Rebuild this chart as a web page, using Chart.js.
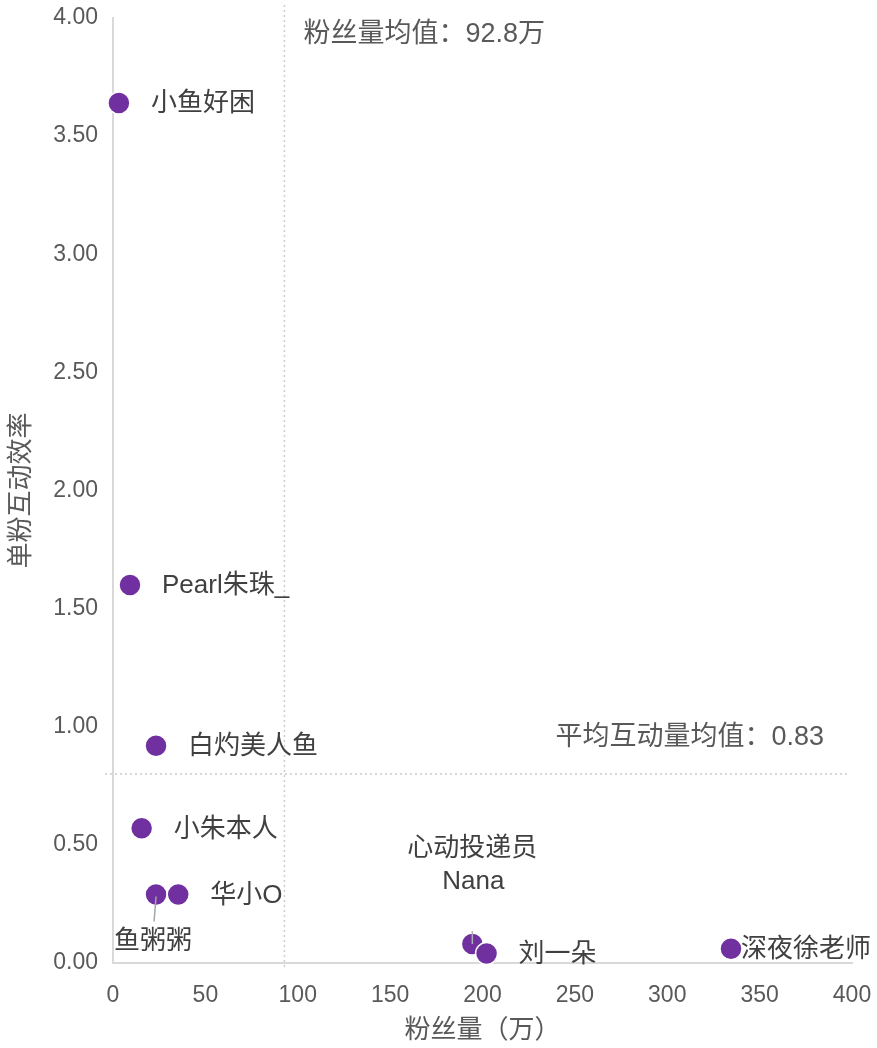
<!DOCTYPE html>
<html>
<head>
<meta charset="utf-8">
<script src="https://cdn.jsdelivr.net/npm/chart.js@4/dist/chart.umd.min.js"></script>
<style>
  html, body { margin: 0; padding: 0; background: #fff; }
  canvas { display: block; }
</style>
</head>
<body>
<canvas id="bubble" width="877" height="1048"></canvas>
<script>
// data
var names = ["小鱼好困", "Pearl朱珠_", "白灼美人鱼", "小朱本人", "鱼粥粥", "华小O", "心动投递员\nNana", "刘一朵", "深夜徐老师"];
var fans = [3.2, 9.2, 23.3, 15.5, 23.3, 35.3, 194.5, 202.2, 334.5];        // 万
var efficiency = [3.64, 1.60, 0.92, 0.57, 0.29, 0.29, 0.08, 0.04, 0.06];
var fansMean = 92.8;
var effMeanLine = 0.80;
var fansMeanText = "粉丝量均值：92.8万";
var effMeanText = "平均互动量均值：0.83";
var xTitle = "粉丝量（万）";
var yTitle = "单粉互动效率";

// where each label sits relative to its dot
var labelPlace = ["right", "right", "right", "right", "below", "right", "above", "right", "tight"];

var FONT = '"Liberation Sans", "Noto Sans CJK SC", sans-serif';

var overlay = {
    id: "overlay",
    beforeDatasetsDraw: function(chart) {
        var ctx = chart.ctx, area = chart.chartArea;
        var x = chart.scales.x, y = chart.scales.y;
        ctx.save();
        ctx.strokeStyle = "#cccccc";
        ctx.lineWidth = 1.5;
        ctx.setLineDash([2, 3]);
        var mx = x.getPixelForValue(fansMean);
        ctx.beginPath();
        ctx.moveTo(mx, area.top - 13);
        ctx.lineTo(mx, area.bottom + 4);
        ctx.stroke();
        var my = y.getPixelForValue(effMeanLine);
        ctx.beginPath();
        ctx.moveTo(area.left - 8, my);
        ctx.lineTo(area.right - 3, my);
        ctx.stroke();
        ctx.setLineDash([]);

        ctx.fillStyle = "#595959";
        ctx.font = "27px " + FONT;
        ctx.textBaseline = "middle";
        ctx.textAlign = "left";
        ctx.fillText(fansMeanText, mx + 19, area.top + 17);
        ctx.textAlign = "right";
        ctx.fillText(effMeanText, area.right - 28, my - 36);

        // axis titles
        ctx.font = "26px " + FONT;
        ctx.textAlign = "center";
        ctx.fillText(xTitle, (area.left + area.right) / 2, 1031);
        ctx.save();
        ctx.translate(22, (area.top + area.bottom) / 2);
        ctx.rotate(-Math.PI / 2);
        ctx.fillText(yTitle, 0, 0);
        ctx.restore();
        ctx.restore();
    },
    afterDatasetsDraw: function(chart) {
        var ctx = chart.ctx;
        var meta = chart.getDatasetMeta(0);
        ctx.save();
        ctx.font = "26px " + FONT;
        ctx.fillStyle = "#404040";
        ctx.textBaseline = "middle";
        meta.data.forEach(function(pt, i) {
            var px = pt.x, py = pt.y;
            var lines = names[i].split("\n");
            var place = labelPlace[i];
            if (place === "right" || place === "tight") {
                ctx.textAlign = "left";
                ctx.fillText(lines[0], px + (place === "tight" ? 10 : 32), py + 1);
            } else if (place === "below") {
                ctx.strokeStyle = "#a6a6a6";
                ctx.lineWidth = 1.5;
                ctx.beginPath();
                ctx.moveTo(px, py + 2);
                ctx.lineTo(px - 2, py + 27);
                ctx.stroke();
                ctx.textAlign = "center";
                ctx.fillText(lines[0], px - 3, py + 47);
            } else {
                ctx.strokeStyle = "#b0b0b0";
                ctx.lineWidth = 1.5;
                ctx.beginPath();
                ctx.moveTo(px, py);
                ctx.lineTo(px, py - 13);
                ctx.stroke();
                ctx.textAlign = "center";
                ctx.fillText(lines[0], px, py - 95);
                ctx.fillText(lines[1], px + 1, py - 62);
            }
        });
        ctx.restore();
    }
};

function noPadX(s) {
    s.height = 85;
    s.paddingLeft = 0;
    s.paddingRight = 0;
}
function noPadY(s) {
    s.width = 113;
    s.paddingTop = 0;
    s.paddingBottom = 0;
}

var ctx = document.getElementById("bubble").getContext("2d");
var chart = new Chart(ctx, {
    type: "scatter",
    data: {
        datasets: [{
            data: fans.map(function(v, i) { return { x: v, y: efficiency[i] }; }),
            backgroundColor: "#7030A0",
            borderColor: "#ffffff",
            borderWidth: 1.5,
            pointRadius: 11,
            pointHoverRadius: 11,
            clip: false
        }]
    },
    options: {
        responsive: false,
        animation: false,
        layout: { padding: { top: 18, right: 25, left: 0, bottom: 0 } },
        plugins: { legend: { display: false }, tooltip: { enabled: false } },
        scales: {
            x: {
                type: "linear",
                min: 0, max: 400,
                grid: { display: false, drawTicks: false },
                border: { display: true, color: "#d9d9d9", width: 2 },
                ticks: { stepSize: 50, padding: 19, color: "#595959", font: { size: 23, family: FONT } },
                afterFit: noPadX
            },
            y: {
                min: 0, max: 4,
                grid: { display: false, drawTicks: false },
                border: { display: true, color: "#d9d9d9", width: 2 },
                ticks: {
                    stepSize: 0.5, padding: 15, color: "#595959", font: { size: 23, family: FONT },
                    callback: function(v) { return v.toFixed(2); }
                },
                afterFit: noPadY
            }
        }
    },
    plugins: [overlay]
});
</script>
</body>
</html>
